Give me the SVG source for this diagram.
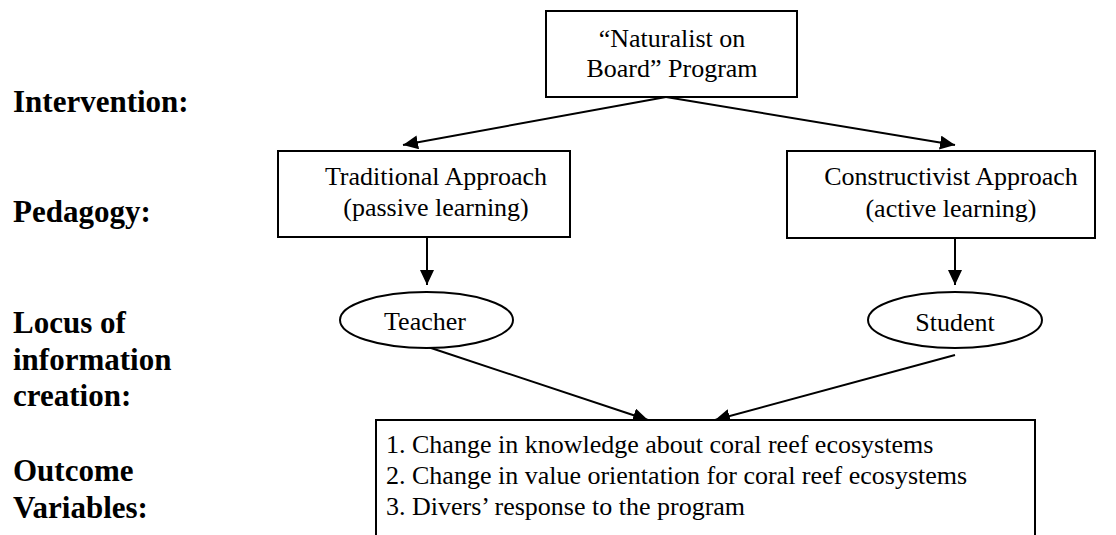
<svg xmlns="http://www.w3.org/2000/svg" width="1116" height="535" viewBox="0 0 1116 535">
<style>
.box{fill:#fff;stroke:#000;stroke-width:2}
.node{font-family:'Liberation Serif',serif;font-size:26px;fill:#000}
.c{text-anchor:middle}
.lbl{font-family:'Liberation Serif',serif;font-size:31px;font-weight:bold;fill:#000}
.edge{stroke:#000;stroke-width:2;fill:none;marker-end:url(#ah)}
</style>
<defs>
<marker id="ah" markerUnits="userSpaceOnUse" markerWidth="16" markerHeight="14" refX="15" refY="7" orient="auto">
<path d="M0,0 L15,7 L0,14 z" fill="#000"/>
</marker>
</defs>
<rect width="1116" height="535" fill="#fff"/>
<g id="labels" class="lbl">
<text x="13" y="112">Intervention:</text>
<text x="13" y="222">Pedagogy:</text>
<text x="13" y="333">Locus of</text>
<text x="13" y="370">information</text>
<text x="13" y="406">creation:</text>
<text x="13" y="481">Outcome</text>
<text x="13" y="518">Variables:</text>
</g>
<g id="connectors">
<line class="edge" x1="666" y1="97" x2="403" y2="145"/>
<line class="edge" x1="666" y1="97" x2="955" y2="145"/>
<line class="edge" x1="427" y1="237" x2="427" y2="285"/>
<line class="edge" x1="955" y1="238" x2="955" y2="285"/>
<line class="edge" x1="428" y1="347" x2="648" y2="420"/>
<line class="edge" x1="955" y1="355" x2="715" y2="420"/>
</g>
<g id="program" class="node">
<rect class="box" x="546" y="11" width="251" height="86"/>
<text class="c" x="672" y="47">“Naturalist on</text>
<text class="c" x="672" y="77">Board” Program</text>
</g>
<g id="traditional" class="node">
<rect class="box" x="278" y="151" width="292" height="86"/>
<text class="c" x="436" y="185">Traditional Approach</text>
<text class="c" x="436" y="216">(passive learning)</text>
</g>
<g id="constructivist" class="node">
<rect class="box" x="787" y="151" width="308" height="87"/>
<text class="c" x="951" y="185">Constructivist Approach</text>
<text class="c" x="951" y="217">(active learning)</text>
</g>
<g id="teacher" class="node">
<ellipse class="box" cx="426.5" cy="320" rx="86.5" ry="28"/>
<text class="c" x="425" y="330">Teacher</text>
</g>
<g id="student" class="node">
<ellipse class="box" cx="955" cy="320" rx="87" ry="28"/>
<text class="c" x="955" y="331">Student</text>
</g>
<g id="outcomes" class="node">
<rect class="box" x="376" y="420" width="659" height="130"/>
<text x="386" y="453">1. Change in knowledge about coral reef ecosystems</text>
<text x="386" y="484">2. Change in value orientation for coral reef ecosystems</text>
<text x="386" y="515">3. Divers’ response to the program</text>
</g>
</svg>
